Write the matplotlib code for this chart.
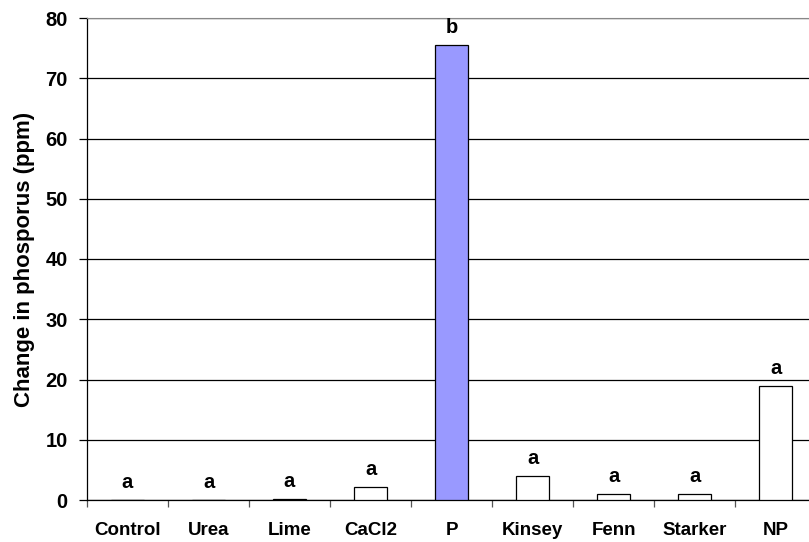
import matplotlib
matplotlib.use("Agg")
import matplotlib.pyplot as plt
import numpy as np

categories = ["Control", "Urea", "Lime", "CaCl2", "P", "Kinsey", "Fenn", "Starker", "NP"]
values = [0.0, 0.0, 0.15, 2.2, 75.5, 4.05, 1.05, 0.95, 19.0]
letters = ["a", "a", "a", "a", "b", "a", "a", "a", "a"]
fills = ["white", "white", "white", "white", "#9999FF", "white", "white", "white", "white"]
y_ticks = [0, 10, 20, 30, 40, 50, 60, 70, 80]

plt.rcParams['font.family'] = ['Liberation Sans', 'DejaVu Sans']
plt.rcParams['font.weight'] = 'bold'

fig = plt.figure(figsize=(8.09, 5.42), dpi=100)
ax = fig.add_axes([87/809, 42/542, 729/809, 482/542])

x = np.arange(len(categories))
bars = ax.bar(x, values, width=0.4, color=fills, edgecolor="black", linewidth=0.9, zorder=3)

for xi, v, l in zip(x, values, letters):
    ax.annotate(l, (xi, v), xytext=(0, 12), textcoords="offset pixels",
                ha="center", va="baseline", fontsize=14.5, fontweight="bold", zorder=4)

ax.set_xlim(-0.5, len(categories) - 0.5)
ax.set_ylim(0, 80)
ax.set_yticks(y_ticks)
ax.set_yticklabels([str(t) for t in y_ticks], fontsize=14.5, fontweight="bold")
ax.yaxis.grid(True, color="black", linewidth=0.9, zorder=0)
ax.set_axisbelow(True)

ax.set_xticks(x)
ax.set_xticklabels(categories, fontsize=13.5, fontweight="bold")
ax.set_xticks(np.arange(-0.5, len(categories), 1.0), minor=True)
ax.tick_params(axis="x", which="major", length=0, pad=16)
ax.tick_params(axis="x", which="minor", length=5, width=0.9, color="#555555", direction="out")
ax.tick_params(axis="y", length=6, width=0.9, direction="out", pad=8)

ax.set_ylabel("Change in phosporus (ppm)", fontsize=16, fontweight="bold", labelpad=7)

for s in ["left", "bottom"]:
    ax.spines[s].set_color("black")
    ax.spines[s].set_linewidth(0.9)
ax.spines["top"].set_color("#888888")
ax.spines["right"].set_visible(False)

fig.savefig("out.png", dpi=100)
